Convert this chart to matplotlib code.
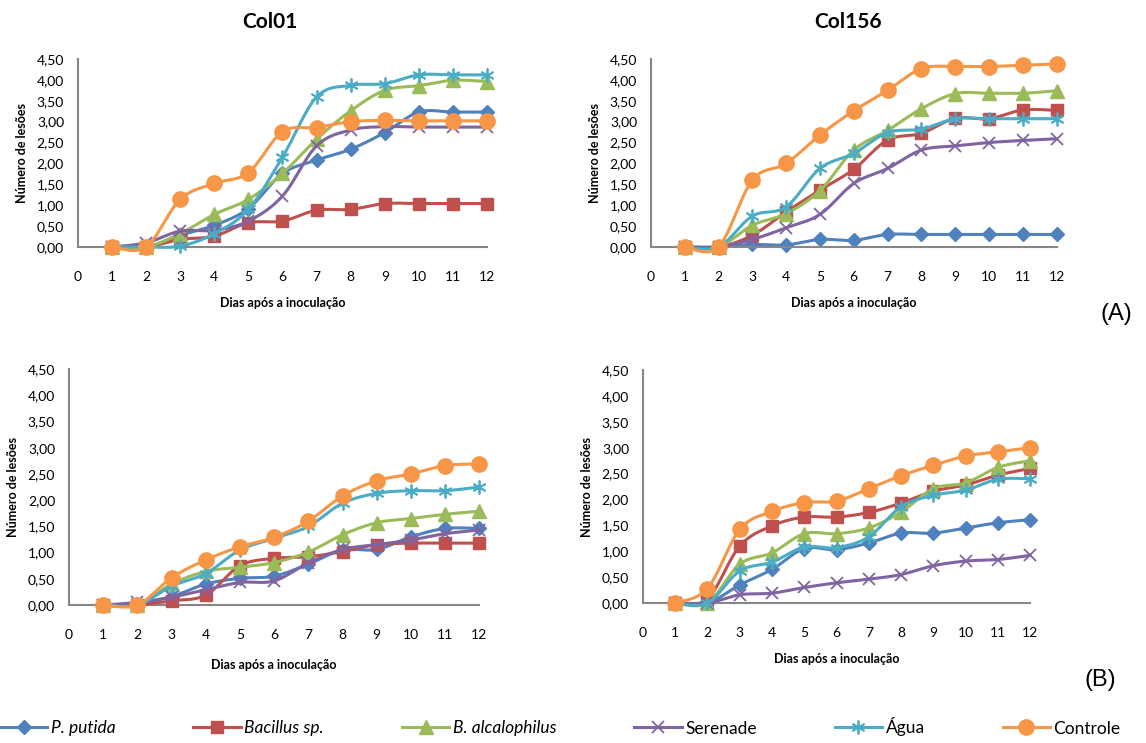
import numpy as np
import matplotlib
matplotlib.use("Agg")
import matplotlib.pyplot as plt
from matplotlib.lines import Line2D

days = [1, 2, 3, 4, 5, 6, 7, 8, 9, 10, 11, 12]
series_names = ["P. putida", "Bacillus sp.", "B. alcalophilus", "Serenade", "Água", "Controle"]
italic_names = [True, True, True, False, False, False]

# Col01 (A)
a1_putida = [0, 0, 0.28, 0.52, 0.92, 1.76, 2.08, 2.34, 2.74, 3.23, 3.23, 3.23]
a1_bacillus = [0, 0, 0.18, 0.26, 0.58, 0.62, 0.88, 0.90, 1.04, 1.04, 1.04, 1.04]
a1_alcal = [0, 0, 0.32, 0.78, 1.14, 1.76, 2.58, 3.26, 3.75, 3.86, 3.99, 3.96]
a1_serenade = [0, 0.10, 0.38, 0.40, 0.62, 1.22, 2.42, 2.80, 2.88, 2.87, 2.87, 2.87]
a1_agua = [0, 0, 0.02, 0.32, 0.90, 2.15, 3.59, 3.87, 3.91, 4.12, 4.12, 4.12]
a1_controle = [0, 0, 1.14, 1.52, 1.78, 2.76, 2.86, 3.00, 3.03, 3.02, 3.02, 3.02]

# Col156 (A)
a2_putida = [0, 0, 0.06, 0.05, 0.18, 0.16, 0.30, 0.30, 0.30, 0.30, 0.30, 0.30]
a2_bacillus = [0, 0, 0.28, 0.84, 1.36, 1.86, 2.56, 2.72, 3.08, 3.07, 3.28, 3.27]
a2_alcal = [0, 0, 0.52, 0.80, 1.35, 2.32, 2.79, 3.31, 3.67, 3.68, 3.68, 3.74]
a2_serenade = [0, 0, 0.18, 0.46, 0.78, 1.52, 1.88, 2.32, 2.42, 2.50, 2.55, 2.59]
a2_agua = [0, 0, 0.74, 0.96, 1.88, 2.24, 2.74, 2.82, 3.07, 3.07, 3.07, 3.07]
a2_controle = [0, 0, 1.60, 2.00, 2.68, 3.26, 3.75, 4.27, 4.32, 4.32, 4.35, 4.38]

# Col01 (B)
b1_putida = [0, 0.02, 0.16, 0.40, 0.51, 0.55, 0.78, 1.05, 1.06, 1.30, 1.46, 1.46]
b1_bacillus = [0, 0, 0.08, 0.19, 0.75, 0.89, 0.92, 1.02, 1.15, 1.18, 1.18, 1.18]
b1_alcal = [0, 0, 0.40, 0.64, 0.72, 0.81, 1.01, 1.34, 1.57, 1.65, 1.73, 1.79]
b1_serenade = [0, 0.05, 0.15, 0.29, 0.43, 0.46, 0.80, 1.06, 1.15, 1.24, 1.36, 1.43]
b1_agua = [0, 0, 0.36, 0.60, 1.05, 1.27, 1.50, 1.94, 2.13, 2.18, 2.18, 2.25]
b1_controle = [0, 0, 0.52, 0.86, 1.11, 1.29, 1.60, 2.08, 2.37, 2.50, 2.66, 2.69]

# Col156 (B)
b2_putida = [0, 0, 0.35, 0.65, 1.05, 1.03, 1.16, 1.35, 1.35, 1.45, 1.55, 1.61]
b2_bacillus = [0, 0.08, 1.10, 1.49, 1.66, 1.66, 1.75, 1.93, 2.16, 2.28, 2.47, 2.60]
b2_alcal = [0, 0, 0.75, 0.97, 1.34, 1.34, 1.45, 1.76, 2.21, 2.32, 2.62, 2.75]
b2_serenade = [0, 0, 0.16, 0.19, 0.30, 0.39, 0.46, 0.55, 0.72, 0.81, 0.84, 0.92]
b2_agua = [0, 0, 0.62, 0.79, 1.08, 1.07, 1.28, 1.86, 2.08, 2.18, 2.39, 2.40]
b2_controle = [0, 0.28, 1.42, 1.77, 1.94, 1.97, 2.21, 2.46, 2.66, 2.84, 2.92, 3.00]

x_ticks = list(range(0, 13))
y_ticks = [0, 0.5, 1.0, 1.5, 2.0, 2.5, 3.0, 3.5, 4.0, 4.5]
y_tick_labels = ["0,00", "0,50", "1,00", "1,50", "2,00", "2,50", "3,00", "3,50", "4,00", "4,50"]

colors = ["#4F81BD", "#C0504D", "#9BBB59", "#8064A2", "#4BACC6", "#F79646"]
markers = ["D", "s", "^", "x", (6, 2, 0), "o"]
msizes = [7.5, 9, 9.5, 8.5, 10, 11]

FONT = "Lato"


def smooth(x, y, n=24):
    x = np.asarray(x, float)
    y = np.asarray(y, float)
    P = np.column_stack([x, y])
    out = [P[0]]
    t = np.linspace(0, 1, n)[1:]
    m = len(P)
    for i in range(m - 1):
        p0 = P[i - 1] if i > 0 else P[i]
        p1 = P[i]
        p2 = P[i + 1]
        p3 = P[i + 2] if i + 2 < m else P[i + 1]
        c1 = p1 + (p2 - p0) / 6.0
        c2 = p2 - (p3 - p1) / 6.0
        for tt in t:
            b = ((1 - tt) ** 3) * p1 + 3 * ((1 - tt) ** 2) * tt * c1 + 3 * (1 - tt) * tt ** 2 * c2 + tt ** 3 * p2
            out.append(b)
    out = np.array(out)
    return out[:, 0], out[:, 1]


fig = plt.figure(figsize=(11.46, 7.43), dpi=100)

panels = [
    ([0.068, 0.6676, 0.357, 0.253], [a1_putida, a1_bacillus, a1_alcal, a1_serenade, a1_agua, a1_controle], 22),
    ([0.568, 0.6676, 0.354, 0.253], [a2_putida, a2_bacillus, a2_alcal, a2_serenade, a2_agua, a2_controle], 595),
    ([0.0602, 0.1857, 0.358, 0.3176], [b1_putida, b1_bacillus, b1_alcal, b1_serenade, b1_agua, b1_controle], 13),
    ([0.561, 0.1884, 0.338, 0.3136], [b2_putida, b2_bacillus, b2_alcal, b2_serenade, b2_agua, b2_controle], 587),
]
xlabel_y = [303, 303, 665, 659]

for pi, (rect, data, ylab_x) in enumerate(panels):
    ax = fig.add_axes(rect)
    for k, vals in enumerate(data):
        sx, sy = smooth(days, vals)
        ax.plot(sx, sy, color=colors[k], lw=2.2, solid_capstyle="round", clip_on=False, zorder=2 + k)
        mk = markers[k]
        if k in (3, 4):
            ax.plot(days, vals, linestyle="none", marker=mk, ms=msizes[k], mec=colors[k],
                    mew=1.3, clip_on=False, zorder=2 + k)
        else:
            ax.plot(days, vals, linestyle="none", marker=mk, ms=msizes[k], mfc=colors[k],
                    mec=colors[k], clip_on=False, zorder=2 + k)
    ax.set_xlim(0, 12)
    ax.set_ylim(0, 4.5)
    ax.set_xticks(x_ticks)
    ax.set_xticklabels([str(v) for v in x_ticks], fontsize=10, family=FONT)
    ax.set_yticks(y_ticks)
    ax.set_yticklabels(y_tick_labels, fontsize=10, family=FONT)
    ax.tick_params(axis="both", length=0, colors="black")
    ax.tick_params(axis="x", pad=17)
    ax.tick_params(axis="y", pad=10)
    for s in ("top", "right"):
        ax.spines[s].set_visible(False)
    for s in ("left", "bottom"):
        ax.spines[s].set_color("#868686")
        ax.spines[s].set_linewidth(1.5)
    ax.patch.set_alpha(0)
    bx = rect[0] + rect[2] / 2
    fig.text(bx, 1 - xlabel_y[pi] / 743, "Dias após a inoculação", ha="center", va="center",
             fontsize=9, fontweight="bold", family=FONT)
    fig.text(ylab_x / 1146, rect[1] + rect[3] / 2, "Número de lesões", ha="center", va="center",
             rotation=90, fontsize=9, fontweight="bold", family=FONT)

fig.text(270 / 1146, 1 - 22 / 743, "Col01", ha="center", va="center", fontsize=15, fontweight="bold", family=FONT)
fig.text(848 / 1146, 1 - 22 / 743, "Col156", ha="center", va="center", fontsize=15, fontweight="bold", family=FONT)
fig.text(1116 / 1146, 1 - 314 / 743, "(A)", ha="center", va="center", fontsize=17, family="Liberation Sans")
fig.text(1100 / 1146, 1 - 680 / 743, "(B)", ha="center", va="center", fontsize=17, family="Liberation Sans")

handles = []
for k in range(6):
    if k in (3, 4):
        h = Line2D([0], [0], color=colors[k], lw=2.2, marker=markers[k], ms=msizes[k], mec=colors[k], mew=1.3)
    else:
        h = Line2D([0], [0], color=colors[k], lw=2.2, marker=markers[k], ms=msizes[k], mfc=colors[k], mec=colors[k])
    handles.append(h)

fs = 12.5
leg = fig.legend(handles, series_names, loc="center left", bbox_to_anchor=(0.0, 1 - 727 / 743),
                 ncol=6, frameon=False, handlelength=34 / fs, handletextpad=0.2,
                 columnspacing=4.5, borderpad=0.0, borderaxespad=0.0,
                 prop={"family": FONT, "size": fs})
for txt, it in zip(leg.get_texts(), italic_names):
    if it:
        txt.set_fontstyle("italic")

fig.savefig("out.png", dpi=100)
